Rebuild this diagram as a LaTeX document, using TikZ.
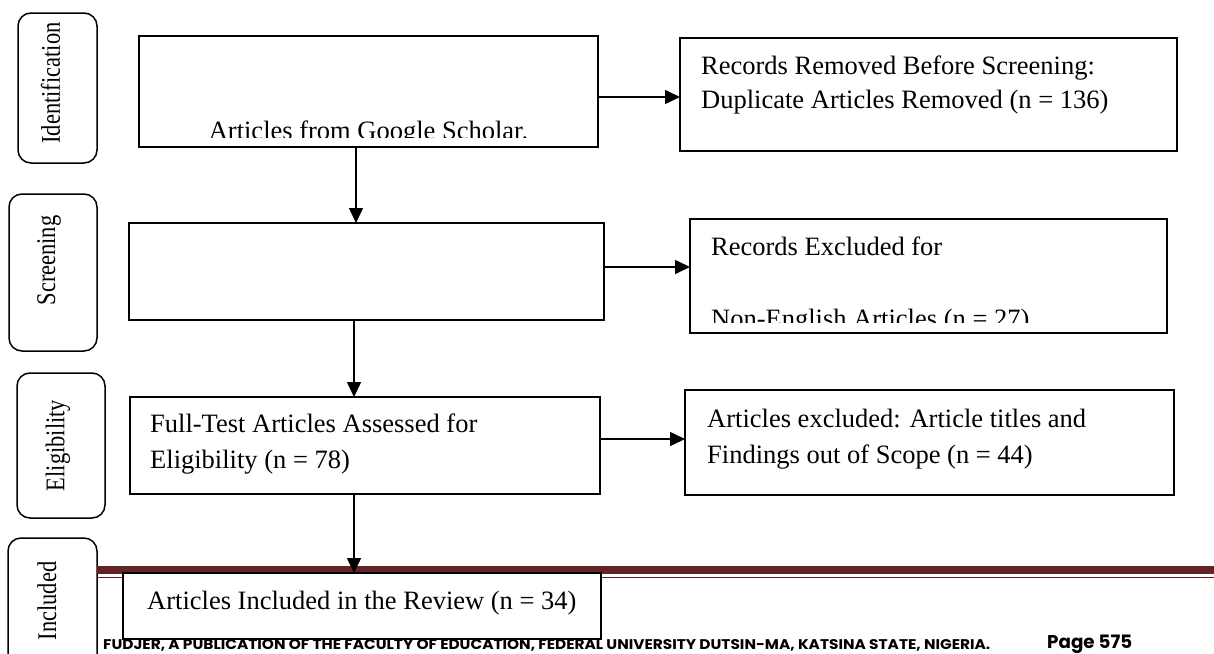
\documentclass[tikz,border=0pt]{standalone}
\usepackage{fontspec}
\usepackage{graphicx}
\setmainfont{Liberation Serif}
\newfontfamily\footfont{Poppins}
\usetikzlibrary{arrows.meta}
\definecolor{barred}{HTML}{632423}
\begin{document}
\begin{tikzpicture}[x=1pt,y=-1pt,
  mainbox/.style={draw,line width=1.8pt,rectangle,inner sep=0pt,outer sep=0pt,anchor=north west,fill=white},
  sidebox/.style={draw,line width=1.4pt,rectangle,inner sep=0pt,outer sep=0pt,anchor=north west,fill=white},
  phase/.style={draw,line width=1.5pt,rectangle,rounded corners=13pt,inner sep=0pt,outer sep=0pt,anchor=north west},
  txt/.style={anchor=base west,inner sep=0pt,font=\fontsize{26.5}{32}\selectfont},
  phasetxt/.style={rotate=90,inner sep=0pt,font=\fontsize{22.5}{26}\selectfont},
  arr/.style={line width=1.6pt,-{Triangle[length=15pt,width=14pt]}}]
\clip (0,0) rectangle (1214,653);
\fill[white] (0,0) rectangle (1214,653);

% phase labels
\node[phase,minimum width=79pt,minimum height=150pt] (id) at (18,13) {};
\node[phase,minimum width=88pt,minimum height=157pt] (sc) at (9,194) {};
\node[phase,minimum width=88pt,minimum height=145pt] (el) at (17,373) {};
\node[phase,minimum width=89pt,minimum height=150pt] (inc) at (8,538) {};
\node[phasetxt] (idt) at ([xshift=-7pt,yshift=5pt]id.center) {\scalebox{1}[1.2]{Identification}};
\node[phasetxt] (sct) at ([xshift=-4pt,yshift=12pt]sc.center) {\scalebox{1}[1.2]{Screening}};
\node[phasetxt] (elt) at ([xshift=-3pt]el.center) {\scalebox{1}[1.2]{Eligibility}};
\node[phasetxt] (inct) at (47,601) {\scalebox{1}[1.2]{Included}};

% footer bar
\fill[barred] (97,566) rectangle (1214,574);
\draw[barred,line width=1.5pt] (97,577.5) -- (1214,577.5);

% main boxes
\node[mainbox,minimum width=459pt,minimum height=111pt] (b1) at (139,36) {};
\node[sidebox,minimum width=497pt,minimum height=113pt] (r1) at (680,38) {};
\node[mainbox,minimum width=475pt,minimum height=97pt] (b2) at (129,223) {};
\node[sidebox,minimum width=477pt,minimum height=114pt] (r2) at (690,219) {};
\node[mainbox,minimum width=470pt,minimum height=97pt] (b3) at (130,397) {};
\node[sidebox,minimum width=489pt,minimum height=105pt] (r3) at (685,390) {};
\node[mainbox,minimum width=478pt,minimum height=66pt] (b4) at (123,573) {};

% texts
\begin{scope}
\clip (b1.north west) rectangle ([yshift=10pt]b1.south east);
\node[txt,anchor=base] (b1t) at (368.5,139.5) {Articles from Google Scholar.};
\end{scope}
\node[txt] (r1a) at (701,74) {Records Removed Before Screening:};
\node[txt] (r1b) at (701,108) {Duplicate Articles Removed (n = 136)};
\node[txt] (r2a) at (711,255) {Records Excluded for};
\begin{scope}
\clip (r2.north west) rectangle ([yshift=11pt]r2.south east);
\node[txt] (r2b) at (711,327.5) {Non-English Articles (n = 27)};
\end{scope}
\node[txt] (b3a) at (150,432) {Full-Test Articles Assessed for};
\node[txt] (b3b) at (150,468) {Eligibility (n = 78)};
\node[txt] (r3a) at (707,427) {Articles excluded: Article titles and};
\node[txt] (r3b) at (707,463) {Findings out of Scope (n = 44)};
\node[txt] (b4t) at (147,609) {Articles Included in the Review (n = 34)};

% arrows
\coordinate (a1) at ([yshift=-5.5pt]b1.east);
\draw[arr] (a1) -- (a1 -| r1.west);
\coordinate (a2) at ([yshift=4.5pt]b2.east);
\draw[arr] (a2) -- (a2 -| r2.west);
\coordinate (a3) at ([yshift=6.5pt]b3.east);
\draw[arr] (a3) -- (a3 -| r3.west);
\coordinate (d1) at ([xshift=-12.5pt]b1.south);
\draw[arr] (d1) -- (d1 |- b2.north);
\coordinate (d2) at ([xshift=-12.5pt]b2.south);
\draw[arr] (d2) -- (d2 |- b3.north);
\coordinate (d3) at ([xshift=-11pt]b3.south);
\draw[arr] (d3) -- (d3 |- b4.north);

% footer text
\node[anchor=base west,inner sep=0pt] (foot) at (103,649) {\resizebox{887pt}{10pt}{\footfont\bfseries FUDJER, A PUBLICATION OF THE FACULTY OF EDUCATION, FEDERAL UNIVERSITY DUTSIN-MA, KATSINA STATE, NIGERIA.}};
\node[anchor=base west,inner sep=0pt] (page) at (1047,648) {\resizebox{85pt}{13.5pt}{\footfont\bfseries Page 575}};
\end{tikzpicture}
\end{document}
